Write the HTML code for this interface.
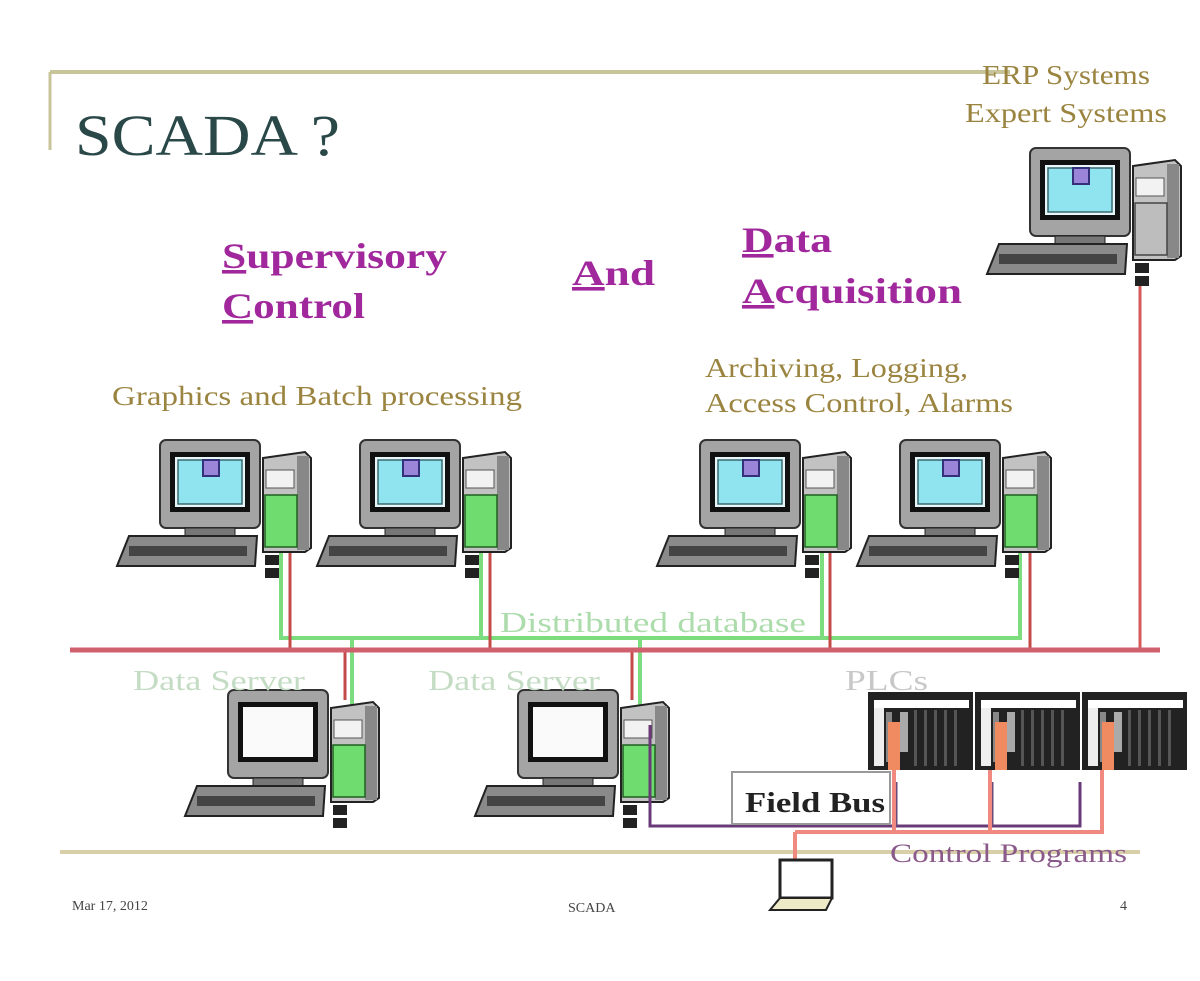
<!DOCTYPE html>
<html><head><meta charset="utf-8"><style>
html,body{margin:0;padding:0;background:#fff;}
svg{display:block;}
text{font-family:"Liberation Serif",serif;}
</style></head><body>
<svg width="1200" height="981" viewBox="0 0 1200 981" xmlns="http://www.w3.org/2000/svg">
<defs>
<g id="pc">
  <rect x="45" y="0" width="100" height="88" rx="6" fill="#a4a4a4" stroke="#333" stroke-width="2"/>
  <rect x="55" y="12" width="80" height="60" fill="#111"/>
  <rect x="60" y="17" width="70" height="50" fill="#e8f8fa"/>
  <rect x="63" y="20" width="64" height="44" fill="#8fe4ef" stroke="#3a6a70" stroke-width="1.5"/>
  <rect x="88" y="20" width="16" height="16" fill="#9a85d8" stroke="#35307a" stroke-width="2"/>
  <rect x="70" y="88" width="50" height="8" fill="#777" stroke="#222"/>
  <polygon points="14,96 142,96 140,126 2,126" fill="#8a8a8a" stroke="#222" stroke-width="2"/>
  <rect x="14" y="106" width="118" height="10" fill="#444"/>
  <polygon points="148,18 190,12 196,18 196,108 190,112 148,112" fill="#c2c2c2" stroke="#222" stroke-width="2"/>
  <rect x="182" y="16" width="12" height="94" fill="#888"/>
  <rect x="151" y="30" width="28" height="18" fill="#f2f2f2" stroke="#555"/>
  <rect x="150" y="55" width="32" height="52" fill="#6fdc6f" stroke="#1f5f1f" stroke-width="1.5"/>
  <rect x="150" y="115" width="14" height="10" fill="#222"/>
  <rect x="150" y="128" width="14" height="10" fill="#222"/>
</g>
<g id="pcgray">
  <rect x="45" y="0" width="100" height="88" rx="6" fill="#a4a4a4" stroke="#333" stroke-width="2"/>
  <rect x="55" y="12" width="80" height="60" fill="#111"/>
  <rect x="60" y="17" width="70" height="50" fill="#e8f8fa"/>
  <rect x="63" y="20" width="64" height="44" fill="#8fe4ef" stroke="#3a6a70" stroke-width="1.5"/>
  <rect x="88" y="20" width="16" height="16" fill="#9a85d8" stroke="#35307a" stroke-width="2"/>
  <rect x="70" y="88" width="50" height="8" fill="#777" stroke="#222"/>
  <polygon points="14,96 142,96 140,126 2,126" fill="#8a8a8a" stroke="#222" stroke-width="2"/>
  <rect x="14" y="106" width="118" height="10" fill="#444"/>
  <polygon points="148,18 190,12 196,18 196,108 190,112 148,112" fill="#c2c2c2" stroke="#222" stroke-width="2"/>
  <rect x="182" y="16" width="12" height="94" fill="#888"/>
  <rect x="151" y="30" width="28" height="18" fill="#f2f2f2" stroke="#555"/>
  <rect x="150" y="55" width="32" height="52" fill="#bdbdbd" stroke="#444" stroke-width="1.5"/>
  <rect x="150" y="115" width="14" height="10" fill="#222"/>
  <rect x="150" y="128" width="14" height="10" fill="#222"/>
</g>
<g id="srv">
  <rect x="45" y="0" width="100" height="88" rx="6" fill="#a4a4a4" stroke="#333" stroke-width="2"/>
  <rect x="55" y="12" width="80" height="60" fill="#111"/>
  <rect x="60" y="17" width="70" height="50" fill="#fafafa"/>
  <rect x="70" y="88" width="50" height="8" fill="#777" stroke="#222"/>
  <polygon points="14,96 142,96 140,126 2,126" fill="#8a8a8a" stroke="#222" stroke-width="2"/>
  <rect x="14" y="106" width="118" height="10" fill="#444"/>
  <polygon points="148,18 190,12 196,18 196,108 190,112 148,112" fill="#c2c2c2" stroke="#222" stroke-width="2"/>
  <rect x="182" y="16" width="12" height="94" fill="#888"/>
  <rect x="151" y="30" width="28" height="18" fill="#f2f2f2" stroke="#555"/>
  <rect x="150" y="55" width="32" height="52" fill="#6fdc6f" stroke="#1f5f1f" stroke-width="1.5"/>
  <rect x="150" y="115" width="14" height="10" fill="#222"/>
  <rect x="150" y="128" width="14" height="10" fill="#222"/>
</g>
<g id="plc">
  <rect x="0" y="0" width="105" height="78" fill="#222"/>
  <rect x="6" y="8" width="95" height="8" fill="#fff"/>
  <rect x="6" y="16" width="10" height="58" fill="#eee"/>
  <rect x="18" y="20" width="6" height="50" fill="#888"/>
  <rect x="32" y="20" width="8" height="40" fill="#aaa"/>
  <rect x="46" y="18" width="3" height="56" fill="#555"/>
  <rect x="56" y="18" width="3" height="56" fill="#555"/>
  <rect x="66" y="18" width="3" height="56" fill="#555"/>
  <rect x="76" y="18" width="3" height="56" fill="#555"/>
  <rect x="86" y="18" width="3" height="56" fill="#555"/>
  <rect x="20" y="30" width="12" height="48" fill="#f08a60"/>
</g>
</defs>

<!-- frame -->
<line x1="50" y1="72" x2="1010" y2="72" stroke="#c8c49a" stroke-width="4"/>
<line x1="50" y1="72" x2="50" y2="150" stroke="#c8c49a" stroke-width="3"/>
<line x1="60" y1="852" x2="1140" y2="852" stroke="#d8cfa8" stroke-width="4"/>

<!-- title -->
<text x="75" y="155" font-size="58" fill="#2a4848" textLength="265" lengthAdjust="spacingAndGlyphs">SCADA ?</text>

<g fill="#a0289c" font-weight="bold" font-size="36">
<text x="222" y="268" textLength="225" lengthAdjust="spacingAndGlyphs"><tspan text-decoration="underline">S</tspan>upervisory</text>
<text x="222" y="318" textLength="143" lengthAdjust="spacingAndGlyphs"><tspan text-decoration="underline">C</tspan>ontrol</text>
<text x="572" y="285" textLength="83" lengthAdjust="spacingAndGlyphs"><tspan text-decoration="underline">A</tspan>nd</text>
<text x="742" y="252" textLength="90" lengthAdjust="spacingAndGlyphs"><tspan text-decoration="underline">D</tspan>ata</text>
<text x="742" y="303" textLength="220" lengthAdjust="spacingAndGlyphs"><tspan text-decoration="underline">A</tspan>cquisition</text>
</g>

<g fill="#9a8440" font-size="27">
<text x="112" y="405" textLength="410" lengthAdjust="spacingAndGlyphs">Graphics and Batch processing</text>
<text x="705" y="377" textLength="263" lengthAdjust="spacingAndGlyphs">Archiving, Logging,</text>
<text x="705" y="412" textLength="308" lengthAdjust="spacingAndGlyphs">Access Control, Alarms</text>
<text x="982" y="84" textLength="168" lengthAdjust="spacingAndGlyphs">ERP Systems</text>
<text x="965" y="122" textLength="202" lengthAdjust="spacingAndGlyphs">Expert Systems</text>
</g>

<!-- network lines -->
<line x1="1140" y1="285" x2="1140" y2="652" stroke="#d65a5a" stroke-width="3"/>
<g stroke="#7ddc7d" stroke-width="4" fill="none">
<polyline points="281,540 281,638 1020,638 1020,540"/>
<line x1="481" y1="540" x2="481" y2="638"/>
<line x1="822" y1="540" x2="822" y2="638"/>
<line x1="352" y1="638" x2="352" y2="720"/>
<line x1="640" y1="638" x2="640" y2="720"/>
</g>
<g stroke="#c44a4a" stroke-width="3">
<line x1="290" y1="545" x2="290" y2="650"/>
<line x1="490" y1="545" x2="490" y2="650"/>
<line x1="830" y1="545" x2="830" y2="650"/>
<line x1="1030" y1="545" x2="1030" y2="650"/>
<line x1="345" y1="650" x2="345" y2="700"/>
<line x1="632" y1="650" x2="632" y2="700"/>
</g>
<line x1="70" y1="650" x2="1160" y2="650" stroke="#d0606e" stroke-width="5"/>

<!-- computers -->
<use href="#pc" x="115" y="440"/>
<use href="#pc" x="315" y="440"/>
<use href="#pc" x="655" y="440"/>
<use href="#pc" x="855" y="440"/>
<use href="#pcgray" x="985" y="148"/>
<use href="#srv" x="183" y="690"/>
<use href="#srv" x="473" y="690"/>

<text x="500" y="632" font-size="28" fill="#acdcac" textLength="306" lengthAdjust="spacingAndGlyphs">Distributed database</text>
<text x="133" y="690" font-size="28" fill="#c4dcc4" textLength="172" lengthAdjust="spacingAndGlyphs">Data Server</text>
<text x="428" y="690" font-size="28" fill="#c4dcc4" textLength="172" lengthAdjust="spacingAndGlyphs">Data Server</text>
<text x="845" y="690" font-size="28" fill="#c8c8c8" textLength="83" lengthAdjust="spacingAndGlyphs">PLCs</text>

<!-- PLCs -->
<use href="#plc" x="868" y="692"/>
<use href="#plc" x="975" y="692"/>
<use href="#plc" x="1082" y="692"/>

<!-- field bus -->
<polyline points="650,725 650,826 1080,826 1080,782" fill="none" stroke="#6a3a78" stroke-width="3"/>
<line x1="896" y1="782" x2="896" y2="826" stroke="#6a4a78" stroke-width="3"/>
<line x1="992" y1="782" x2="992" y2="826" stroke="#6a4a78" stroke-width="3"/>
<g stroke="#f08a80" stroke-width="4" fill="none">
<polyline points="894,770 894,832 1102,832 1102,770"/>
<line x1="990" y1="770" x2="990" y2="832"/>
<line x1="795" y1="832" x2="894" y2="832"/>
<line x1="795" y1="832" x2="795" y2="862"/>
</g>
<rect x="732" y="772" width="158" height="52" fill="#fff" stroke="#999" stroke-width="2"/>
<text x="745" y="812" font-size="29" font-weight="bold" fill="#222" textLength="140" lengthAdjust="spacingAndGlyphs">Field Bus</text>
<text x="890" y="862" font-size="26" fill="#8a5a8a" textLength="237" lengthAdjust="spacingAndGlyphs">Control Programs</text>

<!-- laptop -->
<rect x="780" y="860" width="52" height="38" fill="#fff" stroke="#222" stroke-width="3"/>
<polygon points="780,898 832,898 826,910 770,910" fill="#eeeac8" stroke="#222" stroke-width="2"/>

<!-- footer -->
<text x="72" y="910" font-size="14" fill="#444">Mar 17, 2012</text>
<text x="568" y="912" font-size="14" fill="#444">SCADA</text>
<text x="1120" y="910" font-size="14" fill="#444">4</text>
</svg>
</body></html>
